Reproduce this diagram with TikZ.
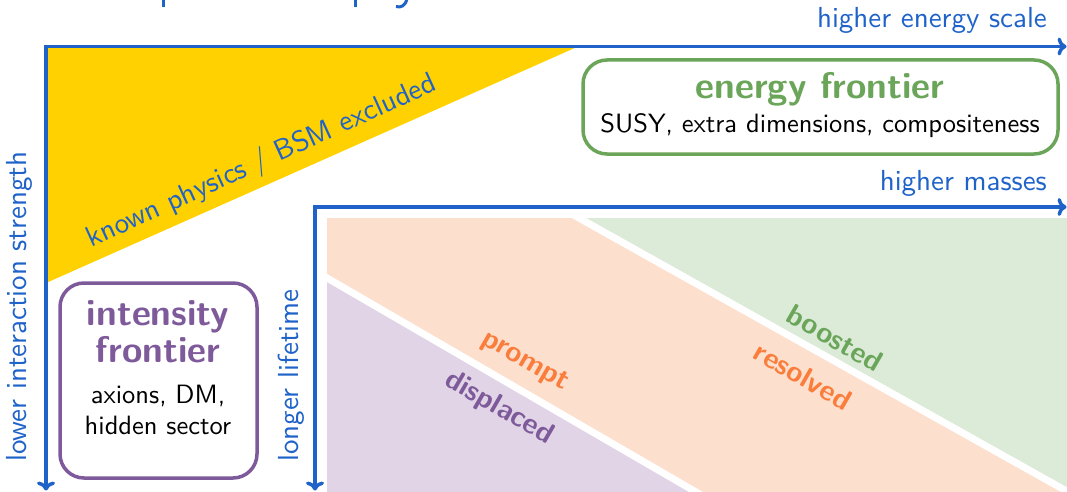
\documentclass[tikz,border=0pt]{standalone}
\usepackage{fontspec}
\setsansfont{lmsans10}[Extension=.otf, UprightFont=*-regular, BoldFont=*-bold, ItalicFont=*-oblique, BoldItalicFont=*-boldoblique]
\usetikzlibrary{arrows.meta}
\definecolor{axisblue}{HTML}{1F63C9}
\definecolor{excl}{HTML}{FFD100}
\definecolor{egreen}{HTML}{6AA55A}
\definecolor{ipurple}{HTML}{7E5A9B}
\definecolor{porange}{HTML}{FA7D3C}
\definecolor{peach}{HTML}{FDDFCE}
\definecolor{lgreen}{HTML}{DCEBD7}
\definecolor{lpurple}{HTML}{E0D4E6}
\newcommand\axfont{\sffamily\fontsize{29}{34}\selectfont}
\newcommand\ttlfont{\sffamily\bfseries\fontsize{37}{40}\selectfont}
\newcommand\subfont{\sffamily\fontsize{26.5}{31}\selectfont}
\newcommand\bandfont{\sffamily\bfseries\fontsize{29}{34}\selectfont}
\begin{document}
\begin{tikzpicture}[x=1pt,y=-1pt,
  axis/.style={line width=3.5pt, draw=axisblue, line join=miter,
    {Computer Modern Rightarrow[length=9pt,width=18pt]}-{Computer Modern Rightarrow[length=9pt,width=18pt]}},
  axlabel/.style={text=axisblue, font=\axfont, inner sep=0pt},
  frontier/.style={draw, line width=3.5pt, rounded corners=24pt, inner sep=0pt},
  boxtitle/.style={font=\ttlfont, inner sep=0pt, anchor=base},
  boxsub/.style={font=\subfont, inner sep=0pt, anchor=base, text=black},
  band/.style={font=\bandfont, inner sep=0pt, rotate=-30},
  divider/.style={draw=white, line width=7pt}
]
\useasboundingbox (0,0) rectangle (1067,492);

% fragments of a title cut off above the picture
\draw[axisblue, line width=3pt] (163,-1) -- (163,7.5);
\draw[axisblue, line width=3pt] (355,-1) -- (355,7.5);
\draw[axisblue, line width=3pt] (407,-1) .. controls (405,6) and (401,8) .. (396,6.5);

% excluded region
\fill[excl] (46,46.5) -- (578,46.5) -- (46,283) -- cycle;

% lower-right regions
\begin{scope}
  \clip (327,218) rectangle (1067,492);
  \fill[peach] (327,218) rectangle (1067,492);
  \fill[lgreen] (579,218) -- (1200,218) -- (1200,565.8) -- cycle;
  \fill[lpurple] (327,278) -- (727,510) -- (327,510) -- cycle;
  \draw[divider] (560,207.4) -- (1200,565.8);
  \draw[divider] (310,268.1) -- (727,510);
\end{scope}

% axes
\coordinate (obot) at (46,490.5);
\coordinate (oright) at (1066.5,46.5);
\coordinate (ibot) at (315,490.5);
\coordinate (iright) at (1066.5,207);
\draw[axis] (obot) |- (oright);
\draw[axis] (ibot) |- (iright);

% axis labels
\node[axlabel, anchor=base east] (lhe) at (1047,28) {higher energy scale};
\node[axlabel, anchor=base east] (lhm) at (1047,190) {higher masses};
\node[axlabel, anchor=base west, rotate=90] (lis) at (27,462) {lower interaction strength};
\node[axlabel, anchor=base west, rotate=90] (lll) at (298,462) {longer lifetime};
\node[axlabel, rotate=24.5] (lexcl) at (262,162) {known physics / BSM excluded};

% energy frontier box
\node[frontier, draw=egreen, minimum width=475pt, minimum height=94pt] (ebox) at (820.5,107) {};
\node[boxtitle, text=egreen] (etitle) at (820,99) {energy frontier};
\node[boxsub] (esub) at (820,132.5) {SUSY, extra dimensions, compositeness};

% intensity frontier box
\node[frontier, draw=ipurple, minimum width=197pt, minimum height=195pt] (ibox) at (158.5,380.5) {};
\node[boxtitle, text=ipurple] (ititlea) at (158,325) {intensity};
\node[boxtitle, text=ipurple] (ititleb) at (158,362) {frontier};
\node[boxsub] (isuba) at (158,403) {axions, DM,};
\node[boxsub] (isubb) at (158,434) {hidden sector};

% band labels
\node[band, text=porange] (lprompt) at (525,362) {prompt};
\node[band, text=ipurple] (ldisp) at (499,408) {displaced};
\node[band, text=egreen] (lboost) at (835,338) {boosted};
\node[band, text=porange] (lres) at (803,376) {resolved};
\end{tikzpicture}
\end{document}
